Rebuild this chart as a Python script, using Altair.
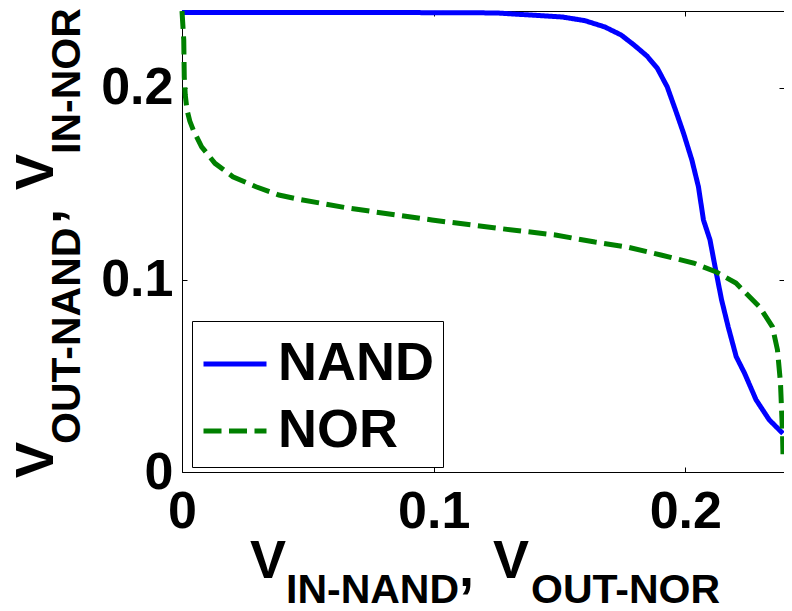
import altair as alt
import pandas as pd

# ---------------- data ----------------
series_names = ["NAND", "NOR"]
series_colors = ["#0000ff", "#008000"]
series_dashes = [[1, 0], [18, 7.5]]

nand_x = [0.0, 0.0856, 0.1248, 0.1510, 0.1600, 0.1680, 0.1745, 0.1797, 0.1848,
          0.1889, 0.1928, 0.1961, 0.1993, 0.2026, 0.2052, 0.2072, 0.2098, 0.2118,
          0.2144, 0.2170, 0.2202, 0.2235, 0.2281, 0.2333, 0.2388]
nand_y = [0.2392, 0.2392, 0.2390, 0.2369, 0.2350, 0.2317, 0.2275, 0.2222, 0.2165,
          0.2101, 0.2005, 0.1884, 0.1763, 0.1624, 0.1485, 0.1312, 0.1208, 0.1069,
          0.0896, 0.0757, 0.0601, 0.0515, 0.0376, 0.0272, 0.0200]

nor_x = [0.0, 0.0007, 0.0009, 0.0013, 0.0020, 0.0031, 0.0045, 0.0078, 0.0131,
         0.0202, 0.0294, 0.0385, 0.0464, 0.0660, 0.0993, 0.1248, 0.1484, 0.1641,
         0.1770, 0.1903, 0.2033, 0.2123, 0.2201, 0.2295, 0.2346, 0.2366, 0.2378,
         0.2386, 0.2388]
nor_y = [0.2400, 0.2248, 0.2056, 0.1962, 0.1884, 0.1827, 0.1780, 0.1693, 0.1607,
         0.1537, 0.1485, 0.1442, 0.1420, 0.1374, 0.1312, 0.1270, 0.1234, 0.1197,
         0.1171, 0.1130, 0.1088, 0.1041, 0.0984, 0.0859, 0.0756, 0.0636, 0.0465,
         0.0205, 0.0090]

tick_vals = [0, 0.1, 0.2]
x_domain = [0, 0.2392]   # visible part of the 0..0.24 axis (right edge falls off the page)
y_domain = [0, 0.24]

rows = []
for name, xs, ys in [("NAND", nand_x, nand_y), ("NOR", nor_x, nor_y)]:
    for i, (xv, yv) in enumerate(zip(xs, ys)):
        rows.append({"series": name, "x": xv, "y": yv, "i": i})
df = pd.DataFrame(rows)

FONT = "Liberation Sans"


def scx():
    return alt.Scale(domain=x_domain, nice=False, zero=False)


def scy():
    return alt.Scale(domain=y_domain, nice=False, zero=False)


def tick_axis(orient, offset, domain=False, ticks=True):
    return alt.Axis(orient=orient, offset=offset, values=tick_vals, domain=domain,
                    domainColor="black", domainWidth=1, ticks=ticks,
                    tickSize=5 if ticks else 0, tickColor="black", tickWidth=1,
                    labels=False, grid=False, title=None)


legend = alt.Legend(orient="none", legendX=10, legendY=310, title=None,
                    fillColor="white", strokeColor="black", padding=9,
                    rowPadding=6, labelOffset=9, symbolType="stroke",
                    symbolSize=3969, symbolStrokeWidth=5, labelFont=FONT,
                    labelFontSize=54, labelFontWeight="bold", labelColor="black",
                    labelLimit=400)

lines = alt.Chart(df).mark_line(strokeWidth=5, strokeCap="butt").encode(
    x=alt.X("x:Q", scale=scx(), axis=alt.Axis(
        orient="bottom", values=tick_vals, format="~g", domain=True,
        domainColor="black", domainWidth=1, ticks=False, tickSize=0,
        labelFont=FONT, labelFontSize=52, labelFontWeight="bold",
        labelColor="black", labelPadding=14, labelFlush=False,
        labelOverlap=False, grid=False, title=None)),
    y=alt.Y("y:Q", scale=scy(), axis=alt.Axis(
        orient="left", values=tick_vals, format="~g", domain=True,
        domainColor="black", domainWidth=1, ticks=False, tickSize=0,
        labelFont=FONT, labelFontSize=52, labelFontWeight="bold",
        labelColor="black", labelPadding=9, labelFlush=False,
        labelOverlap=False, grid=False, title=None)),
    color=alt.Color("series:N", scale=alt.Scale(domain=series_names, range=series_colors),
                    legend=legend),
    strokeDash=alt.StrokeDash("series:N", scale=alt.Scale(domain=series_names, range=series_dashes),
                              legend=legend),
    order="i:Q",
)

ghost = alt.Chart(df).mark_point(opacity=0)
ticks_bl = ghost.encode(
    x=alt.X("x:Q", scale=scx(), axis=tick_axis("bottom", -5)),
    y=alt.Y("y:Q", scale=scy(), axis=tick_axis("left", -5)),
)
frame_top = ghost.encode(
    x=alt.X("x:Q", scale=scx(), axis=tick_axis("top", 0, domain=True, ticks=False)),
    y=alt.Y("y:Q", scale=scy(), axis=tick_axis("right", -5)),
)
ticks_top = ghost.encode(
    x=alt.X("x:Q", scale=scx(), axis=tick_axis("top", -5)),
    y=alt.Y("y:Q", scale=scy(), axis=None),
)

one = pd.DataFrame({"a": [0]})


def txt(s, x, y, size, angle=0):
    kw = dict(text=s, font=FONT, fontSize=size, fontWeight="bold", align="left",
              baseline="alphabetic", color="black")
    if angle:
        kw["angle"] = angle
    return alt.Chart(one).mark_text(**kw).encode(x=alt.value(x), y=alt.value(y))


titles = [
    # x-axis title: V_IN-NAND, V_OUT-NOR
    txt("V", 68, 567, 54),
    txt("IN-NAND", 104, 592, 41),
    txt(",", 277, 575, 54),
    txt("V", 311, 567, 54),
    txt("OUT-NOR", 349, 592, 41),
    # y-axis title: V_OUT-NAND, V_IN-NOR
    txt("V", -129, 467, 54, 270),
    txt("OUT-NAND", -102, 433, 41, 270),
    txt(",", -121, 213, 54, 270),
    txt("V", -129, 179, 54, 270),
    txt("IN-NOR", -102, 143, 41, 270),
]

chart = alt.layer(lines, ticks_bl, frame_top, ticks_top, *titles).resolve_scale(
    x="independent", y="independent"
).resolve_axis(
    x="independent", y="independent"
).properties(
    width=602, height=461,
    autosize=alt.AutoSizeParams(type="none"),
    padding={"left": 174, "top": 3, "right": 0, "bottom": 131},
).configure_view(stroke=None)

chart.save("out.html", embed_options={"renderer": "svg", "actions": False})
